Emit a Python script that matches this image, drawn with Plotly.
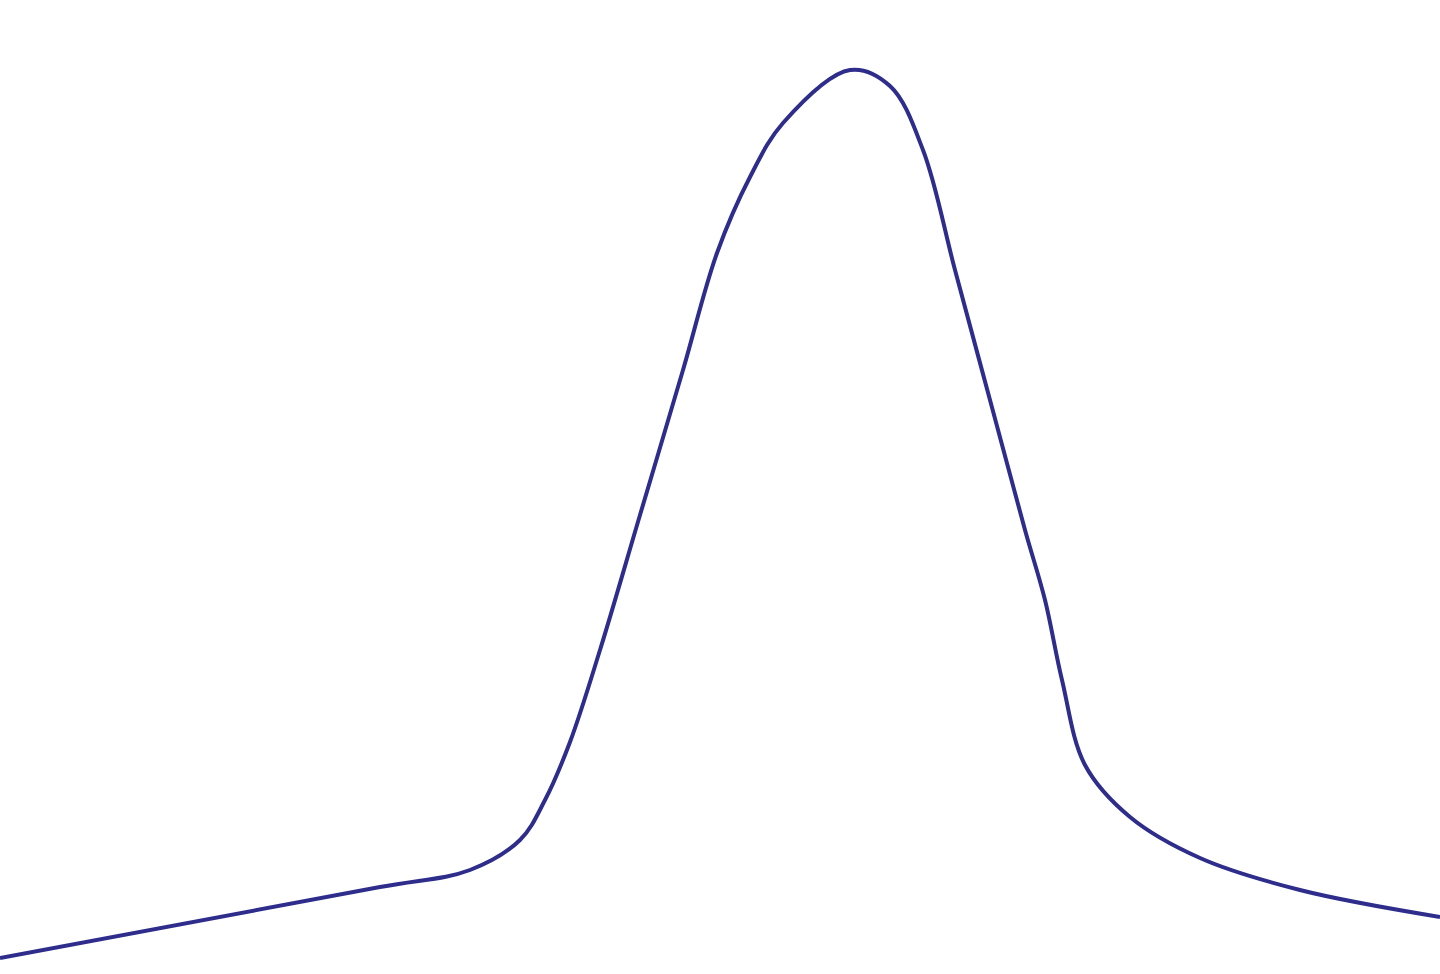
"""Single peaked curve on a blank canvas (no axes)."""

import plotly.graph_objects as go

# position along the curve and its height
x_pos = [0, 380, 470, 520, 545, 570, 600, 640, 683, 717, 750, 783, 850,
         890, 923, 955, 990, 1025, 1045, 1062, 1085, 1130, 1200, 1300, 1440]
height = [16, 87, 104, 134, 174, 232, 324, 459, 604, 721, 797, 851, 904,
          888, 824, 704, 574, 444, 374, 294, 209, 157, 116, 84, 57]

fig = go.Figure()
fig.add_trace(go.Scatter(
    x=x_pos, y=height,
    mode="lines",
    line=dict(color="#2e2d8c", width=4, shape="spline", smoothing=1.0),
    hoverinfo="skip",
))

fig.update_layout(
    width=1440, height=974,
    margin=dict(l=0, r=0, t=0, b=0),
    paper_bgcolor="white",
    plot_bgcolor="white",
    showlegend=False,
    xaxis=dict(range=[0, 1440], visible=False, fixedrange=True),
    yaxis=dict(range=[0, 974], visible=False, fixedrange=True),
)

# drop the page's default body margin so the canvas sits at the corner
fig.write_html(
    "out.html",
    config={"displayModeBar": False},
    post_script="document.body.style.margin='0';",
)
